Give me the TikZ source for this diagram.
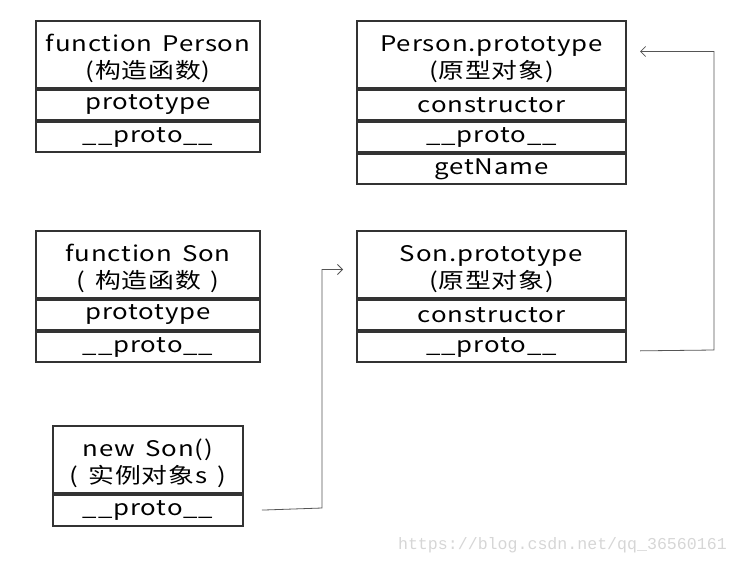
\documentclass[tikz,border=0pt]{standalone}
\usepackage{fontspec}
\setmainfont[FakeStretch=1.2,LetterSpace=4,WordSpace=1.5]{Noto Sans CJK SC}
\newfontfamily\markfont{Liberation Mono}
\usetikzlibrary{positioning,arrows.meta}
\definecolor{boxline}{HTML}{333333}
\definecolor{linkgray}{HTML}{555555}
\definecolor{markgray}{HTML}{D6D6D6}
\newcommand\headlift{\rule{0pt}{26pt}}
\tikzset{
  field/.style={draw=boxline, line width=2.4pt, minimum height=29.6pt,
    inner sep=0pt, align=center, font=\fontsize{21.5}{27}\selectfont},
  head/.style={field, minimum height=66.6pt},
  link/.style={linkgray, line width=.8pt, -{Straight Barb[length=5pt,width=10pt]}},
}

\begin{document}
\begin{tikzpicture}[x=1pt,y=-1pt]
  \useasboundingbox (0,0) rectangle (738,565);
  % constructor Person
  \node[head, minimum width=223.6pt, anchor=north west] (personHead) at (35,20)
    {\headlift function Person\\(构造函数)};
  \node[field, minimum width=223.6pt, below=0pt of personHead] (personProto) {prototype};
  \node[field, minimum width=223.6pt, below=0pt of personProto] (personDunder) {\_\_proto\_\_};
  % Person.prototype
  \node[head, minimum width=268.6pt, anchor=north west] (personProtoHead) at (356,20)
    {\headlift Person.prototype\\(原型对象)};
  \node[field, minimum width=268.6pt, below=0pt of personProtoHead] (personProtoCtor) {constructor};
  \node[field, minimum width=268.6pt, below=0pt of personProtoCtor] (personProtoDunder) {\_\_proto\_\_};
  \node[field, minimum width=268.6pt, below=0pt of personProtoDunder] (personProtoGet) {getName};
  % constructor Son
  \node[head, minimum width=223.6pt, anchor=north west] (sonHead) at (35,230)
    {\headlift function Son\\( 构造函数 )};
  \node[field, minimum width=223.6pt, below=0pt of sonHead] (sonProto) {prototype};
  \node[field, minimum width=223.6pt, below=0pt of sonProto] (sonDunder) {\_\_proto\_\_};
  % Son.prototype
  \node[head, minimum width=268.6pt, anchor=north west] (sonProtoHead) at (356,230)
    {\headlift Son.prototype\\(原型对象)};
  \node[field, minimum width=268.6pt, below=0pt of sonProtoHead] (sonProtoCtor) {constructor};
  \node[field, minimum width=268.6pt, below=0pt of sonProtoCtor] (sonProtoDunder) {\_\_proto\_\_};
  % instance s
  \node[head, minimum width=189.6pt, anchor=north west] (newHead) at (52,425)
    {\headlift new Son()\\( 实例对象s )};
  \node[field, minimum width=189.6pt, minimum height=31pt, below=0pt of newHead] (newDunder) {\_\_proto\_\_};
  % links
  \coordinate (bendA) at (322,508);
  \coordinate (bendB) at (714,350);
  \draw[link, shorten <=18pt, shorten >=13pt] (newDunder.east) -- (bendA)
    |- ([yshift=-5pt]sonProtoHead.west);
  \draw[link, shorten <=13pt, shorten >=13pt] ([yshift=-4pt]sonProtoDunder.east) -- (bendB)
    |- ([yshift=3pt]personProtoHead.east);
  % watermark
  \node[markgray, font=\markfont\fontsize{16.6}{18}\selectfont, anchor=east, inner sep=0pt] (mark)
    at (727,545) {https://blog.csdn.net/qq\_36560161};
\end{tikzpicture}
\end{document}
